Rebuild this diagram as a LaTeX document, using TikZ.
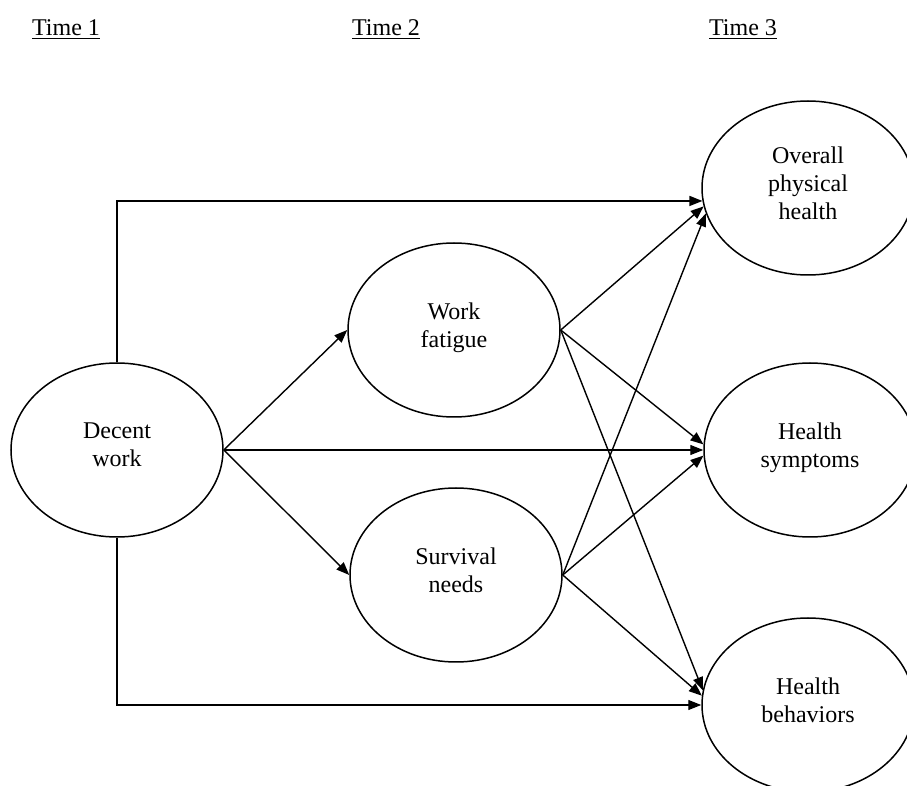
\documentclass[tikz,border=0pt]{standalone}
\usepackage{fontspec}
\setmainfont{Liberation Serif}
\usetikzlibrary{arrows.meta,shapes.geometric}

\begin{document}
\begin{tikzpicture}[
    x=0.5pt, y=-0.5pt,
    font=\fontsize{12}{14}\selectfont,
    latent/.style={ellipse, draw, line width=0.75pt, align=center, minimum width=106pt, minimum height=87pt, inner sep=0pt},
    timelabel/.style={inner sep=0pt},
    effect/.style={-{Triangle[length=6.5pt,width=5pt]}, line width=0.7pt}
  ]
    \useasboundingbox (0,0) rectangle (907,786);
    \node[timelabel] (t1) at (66,30) {\underline{Time 1}};
    \node[timelabel] (t2) at (386,30) {\underline{Time 2}};
    \node[timelabel] (t3) at (743,30) {\underline{Time 3}};
    \node[latent] (dw) at (117,450) {Decent\\work\\[-9pt]};
    \node[latent] (wf) at (454,330) {Work\\fatigue\\[-9pt]};
    \node[latent] (sn) at (456,575) {Survival\\needs\\[-9pt]};
    \node[latent] (op) at (808,188) {Overall\\physical\\health\\[-9pt]};
    \node[latent] (hs) at (810,450) {Health\\symptoms\\[-9pt]};
    \node[latent] (hb) at (808,705) {Health\\behaviors\\[-9pt]};
    \draw[effect] (dw.north) |- (op.187);
    \draw[effect] (dw.south) |- (hb.west);
    \draw[effect] (dw.east) -- (wf.west);
    \draw[effect] (dw.east) -- (hs.west);
    \draw[effect] (dw.east) -- (sn.west);
    \draw[effect] (wf.east) -- (op.190);
    \draw[effect] (wf.east) -- (hs.177);
    \draw[effect] (wf.east) -- (hb.172);
    \draw[effect] (sn.east) -- (op.194);
    \draw[effect] (sn.east) -- (hs.183);
    \draw[effect] (sn.east) -- (hb.175);
  \end{tikzpicture}
\end{document}
